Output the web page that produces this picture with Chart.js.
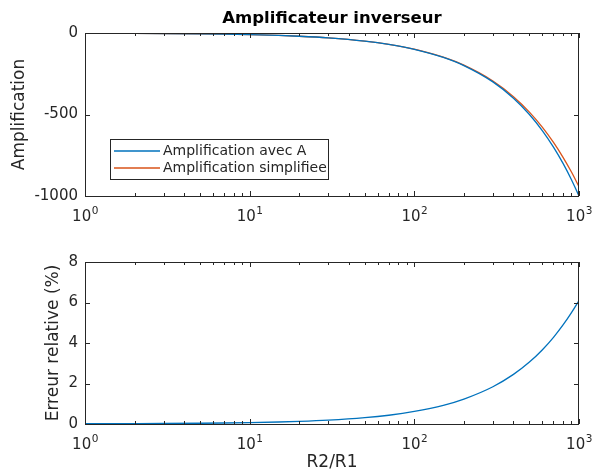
<!DOCTYPE html>
<html><head><meta charset="utf-8">
<script src="https://cdn.jsdelivr.net/npm/chart.js@4"></script>
<style>
html,body{margin:0;padding:0;background:#fff;width:593px;height:474px;overflow:hidden}
canvas{display:block;position:absolute;left:0}
</style></head><body>
<canvas id="c1" width="593" height="237" style="top:0;width:593px;height:237px"></canvas>
<canvas id="c2" width="593" height="237" style="top:237px;width:593px;height:237px"></canvas>
<script>
// ---- data ----
const ratios        = [1, 1.5, 2, 3, 5, 7, 10, 15, 20, 30, 50, 70, 100, 150, 200, 300, 400, 500, 600, 700, 800, 900, 1000];
const ampAvecA      = [-1, -1.5, -2, -3, -5, -7, -10, -15, -20, -30, -50, -70, -100, -150, -200, -300, -400, -500, -600, -700, -800, -900, -1000];
const ampSimplifiee = [-1, -1.5, -2, -3, -5, -7, -9.99, -14.99, -19.97, -29.94, -49.85, -69.7, -99.4, -148.6, -197.6, -294.6, -390.4, -485.2, -578.8, -671.3, -762.7, -853.1, -942.5];
const erreurRelative= [0.012, 0.015, 0.018, 0.024, 0.037, 0.049, 0.067, 0.098, 0.128, 0.189, 0.311, 0.433, 0.62, 0.92, 1.23, 1.84, 2.45, 3.06, 3.67, 4.28, 4.89, 5.5, 6.1];
const xTickValues   = [1, 10, 100, 1000];
const xTickBase     = ['10', '10', '10', '10'];
const xTickExp      = ['0', '1', '2', '3'];
const yTicksAmp     = [-1000, -500, 0];
const yTicksErr     = [0, 2, 4, 6, 8];
const seriesNames   = ['Amplification avec A', 'Amplification simplifiee', 'Erreur relative'];
const colBlue = '#0072BD', colOrange = '#D95319', axCol = '#262626';

const FONT = "'DejaVu Sans', sans-serif";
const xMinor = [];
for (let d = 1; d < 1000; d *= 10) for (let k = 2; k <= 9; k++) xMinor.push(d * k);

const matlabAxes = {
  id: 'matlabAxes',
  afterDatasetsDraw(chart, args, o) {
    const {ctx, chartArea: {left, right, top, bottom}, scales: {x, y}} = chart;
    ctx.save();
    ctx.strokeStyle = axCol; ctx.lineWidth = 1;
    ctx.beginPath();
    const addX = (v, len) => {
      const px = Math.round(x.getPixelForValue(v)) + 0.5;
      ctx.moveTo(px, bottom); ctx.lineTo(px, bottom - len);
      ctx.moveTo(px, top); ctx.lineTo(px, top + len);
    };
    xTickValues.forEach(v => addX(v, 5));
    xMinor.forEach(v => addX(v, 3));
    o.yTicks.forEach(v => {
      const py = Math.round(y.getPixelForValue(v)) + 0.5;
      ctx.moveTo(left, py); ctx.lineTo(left + 5, py);
      ctx.moveTo(right, py); ctx.lineTo(right - 5, py);
    });
    ctx.stroke();
    ctx.strokeRect(Math.round(left) + 0.5, Math.round(top) + 0.5, Math.round(right - left) - 1, Math.round(bottom - top));
    ctx.restore();
  },
  afterDraw(chart, args, o) {
    const {ctx, chartArea: {left, right, top, bottom}, scales: {x}} = chart;
    ctx.save();
    ctx.fillStyle = axCol;
    // x tick labels: base with superscript exponent
    ctx.textAlign = 'left'; ctx.textBaseline = 'alphabetic';
    xTickValues.forEach((v, i) => {
      const px = x.getPixelForValue(v);
      ctx.font = "15px " + FONT;
      const wb = ctx.measureText(xTickBase[i]).width;
      ctx.font = "10.5px " + FONT;
      const we = ctx.measureText(xTickExp[i]).width;
      const sx = px - (wb + we) / 2;
      ctx.font = "15px " + FONT;
      ctx.fillText(xTickBase[i], sx, bottom + 25);
      ctx.font = "10.5px " + FONT;
      ctx.fillText(xTickExp[i], sx + wb + 0.5, bottom + 18);
    });
    ctx.textAlign = 'center'; ctx.textBaseline = 'middle';
    if (o.title) {
      ctx.font = "bold 16.5px " + FONT;
      ctx.fillStyle = '#000';
      ctx.fillText(o.title, (left + right) / 2, 19);
      ctx.fillStyle = axCol;
    }
    ctx.font = "17px " + FONT;
    ctx.save();
    ctx.translate(o.yLabelX, (top + bottom) / 2);
    ctx.rotate(-Math.PI / 2);
    ctx.fillText(o.yLabel, 0, 0);
    ctx.restore();
    if (o.xLabel) ctx.fillText(o.xLabel, (left + right) / 2, o.xLabelY);
    if (o.legend) {
      const L = o.legend;
      ctx.fillStyle = '#fff';
      ctx.fillRect(L.x, L.y, L.w, L.h);
      ctx.strokeStyle = axCol; ctx.lineWidth = 1;
      ctx.strokeRect(L.x + 0.5, L.y + 0.5, L.w, L.h);
      ctx.font = "14px " + FONT;
      ctx.textAlign = 'left';
      chart.data.datasets.forEach((ds, i) => {
        const ry = L.y + L.rows[i];
        ctx.strokeStyle = ds.borderColor; ctx.lineWidth = 1.3;
        ctx.beginPath(); ctx.moveTo(L.x + 4, ry); ctx.lineTo(L.x + 50, ry); ctx.stroke();
        ctx.fillStyle = axCol;
        ctx.fillText(ds.label, L.x + 53, ry + 0.5);
      });
    }
    ctx.restore();
  }
};

function pts(ys) { return ratios.map((x, i) => ({x, y: ys[i]})); }

function makeChart(id, datasets, yTicks, padTop, xH, plug) {
  return new Chart(document.getElementById(id), {
    type: 'line',
    data: {datasets},
    plugins: [matlabAxes],
    options: {
      responsive: false, animation: false, events: [],
      layout: {padding: {top: padTop, right: 14, left: 0, bottom: 0}},
      elements: {point: {radius: 0}, line: {borderWidth: 1.3, cubicInterpolationMode: 'monotone'}},
      plugins: {legend: {display: false}, title: {display: false}, tooltip: {enabled: false}, matlabAxes: Object.assign({yTicks}, plug)},
      scales: {
        x: {
          type: 'logarithmic', min: 1, max: 1000,
          grid: {display: false, drawTicks: false}, border: {display: false},
          afterBuildTicks: s => { s.ticks = xTickValues.map(v => ({value: v})); },
          afterFit: s => { s.height = xH; },
          ticks: {display: false}
        },
        y: {
          min: yTicks[0], max: yTicks[yTicks.length - 1],
          grid: {display: false, drawTicks: false}, border: {display: false},
          afterBuildTicks: s => { s.ticks = yTicks.map(v => ({value: v})); },
          afterFit: s => { s.width = 85; },
          ticks: {padding: 7, color: axCol, font: {family: FONT, size: 15}, callback: v => String(v)}
        }
      }
    }
  });
}

makeChart('c1', [
  {label: seriesNames[0], data: pts(ampAvecA), borderColor: colBlue, backgroundColor: colBlue},
  {label: seriesNames[1], data: pts(ampSimplifiee), borderColor: colOrange, backgroundColor: colOrange}
], yTicksAmp, 33, 41, {
  title: 'Amplificateur inverseur', yLabel: 'Amplification', yLabelX: 20,
  legend: {x: 110, y: 139, w: 218, h: 40, rows: [12, 29]}
});

makeChart('c2', [
  {label: seriesNames[2], data: pts(erreurRelative), borderColor: colBlue, backgroundColor: colBlue}
], yTicksErr, 25, 50, {
  yLabel: 'Erreur relative (%)', yLabelX: 54, xLabel: 'R2/R1', xLabelY: 463 - 237
});
</script>
</body></html>
